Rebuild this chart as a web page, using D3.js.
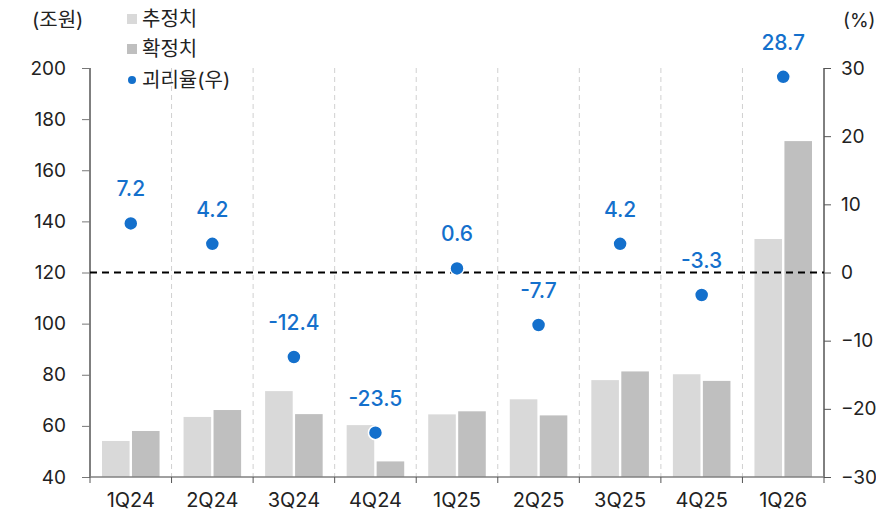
<!DOCTYPE html>
<html>
<head>
<meta charset="utf-8">
<script src="https://cdn.jsdelivr.net/npm/d3@7"></script>
<style>
  body { margin: 0; background: #fff; }
  text { font-family: Inter, "Noto Sans CJK KR", sans-serif; }
</style>
</head>
<body>
<svg id="chart" width="876" height="514"></svg>
<script>
// data
const quarters = ['1Q24', '2Q24', '3Q24', '4Q24', '1Q25', '2Q25', '3Q25', '4Q25', '1Q26']
const estimated = [54.1, 63.5, 73.6, 60.3, 64.5, 70.4, 77.9, 80.2, 133.1]
const confirmed = [58.0, 66.2, 64.6, 46.1, 65.7, 64.1, 81.3, 77.6, 171.4]
const gapRate = [7.2, 4.2, -12.4, -23.5, 0.6, -7.7, 4.2, -3.3, 28.7]
const leftTicks = [40, 60, 80, 100, 120, 140, 160, 180, 200]
const rightTicks = [-30, -20, -10, 0, 10, 20, 30]
const legendNames = ['추정치', '확정치', '괴리율(우)']

const estColor = '#d9d9d9', confColor = '#bfbfbf', blue = '#1470cc'

const svg = d3.select('#chart')
const plotL = 90, plotR = 824, plotT = 68, plotB = 477

const x = d3.scaleBand().domain(quarters).range([plotL, plotR])
const xSub = d3.scaleBand().domain(['est', 'conf']).range([12, x.bandwidth() - 12]).paddingInner(0.08)
const yL = d3.scaleLinear().domain([40, 200]).range([plotB, plotT])
const yR = d3.scaleLinear().domain([-30, 30]).range([plotB, plotT])

// vertical dashed separators
svg.append('g').selectAll('line')
    .data(quarters.slice(1))
    .join('line')
    .attr('x1', d => x(d)).attr('x2', d => x(d))
    .attr('y1', plotT).attr('y2', plotB)
    .attr('stroke', '#d0d0d0').attr('stroke-width', 1)
    .attr('stroke-dasharray', '5,4')

// bars
const groups = svg.append('g').selectAll('g')
    .data(quarters)
    .join('g')
    .attr('transform', d => `translate(${x(d)},0)`)

groups.append('rect')
    .attr('x', xSub('est'))
    .attr('width', xSub.bandwidth())
    .attr('y', (d, i) => yL(estimated[i]))
    .attr('height', (d, i) => plotB - yL(estimated[i]))
    .attr('fill', estColor)

groups.append('rect')
    .attr('x', xSub('conf'))
    .attr('width', xSub.bandwidth())
    .attr('y', (d, i) => yL(confirmed[i]))
    .attr('height', (d, i) => plotB - yL(confirmed[i]))
    .attr('fill', confColor)

// zero line of right axis
svg.append('line')
    .attr('x1', plotL).attr('x2', plotR)
    .attr('y1', yR(0)).attr('y2', yR(0))
    .attr('stroke', '#000').attr('stroke-width', 1.8)
    .attr('stroke-dasharray', '7,5')

// left axis
const axL = svg.append('g')
    .attr('transform', `translate(${plotL},0)`)
    .call(d3.axisLeft(yL).tickValues(leftTicks).tickSize(8).tickPadding(16))
axL.select('.domain').attr('stroke', '#000').attr('d', `M0,${plotT}V${plotB}`)
axL.selectAll('.tick line').attr('stroke', '#777')
axL.selectAll('.tick text').attr('font-size', 19).attr('fill', '#222')

// right axis
const axR = svg.append('g')
    .attr('transform', `translate(${plotR},0)`)
    .call(d3.axisRight(yR).tickValues(rightTicks).tickSize(7).tickPadding(10))
axR.select('.domain').attr('stroke', '#000').attr('d', `M0,${plotT}V${plotB}`)
axR.selectAll('.tick line').attr('stroke', '#555')
axR.selectAll('.tick text').attr('font-size', 19).attr('fill', '#222')

// bottom axis
svg.append('line')
    .attr('x1', plotL).attr('x2', plotR)
    .attr('y1', plotB).attr('y2', plotB)
    .attr('stroke', '#808080').attr('stroke-width', 1.5)
svg.append('g').selectAll('line')
    .data(quarters.concat(['end']))
    .join('line')
    .attr('x1', (d, i) => plotL + i * x.bandwidth())
    .attr('x2', (d, i) => plotL + i * x.bandwidth())
    .attr('y1', plotB).attr('y2', plotB + 6)
    .attr('stroke', '#555')
svg.append('g').selectAll('text')
    .data(quarters)
    .join('text')
    .attr('x', d => x(d) + x.bandwidth() / 2)
    .attr('y', 507)
    .attr('text-anchor', 'middle')
    .attr('font-size', 20).attr('fill', '#222')
    .text(d => d)

// gap rate dots and labels
svg.append('g').selectAll('circle')
    .data(gapRate)
    .join('circle')
    .attr('cx', (d, i) => x(quarters[i]) + x.bandwidth() / 2)
    .attr('cy', d => yR(d))
    .attr('r', 7)
    .attr('fill', blue)
    .attr('stroke', '#fff').attr('stroke-width', 1.5)

svg.append('g').selectAll('text')
    .data(gapRate)
    .join('text')
    .attr('x', (d, i) => x(quarters[i]) + x.bandwidth() / 2)
    .attr('y', d => yR(d) - 27)
    .attr('text-anchor', 'middle')
    .attr('font-size', 21).attr('font-weight', 500).attr('fill', blue)
    .text(d => d.toFixed(1))

// units
svg.append('text').attr('x', 32).attr('y', 27).attr('font-size', 20).attr('fill', '#222').text('(조원)')
svg.append('text').attr('x', 843).attr('y', 27).attr('font-size', 19).attr('fill', '#222').text('(%)')

// legend
const leg = svg.append('g').attr('transform', 'translate(127,0)')
const legY = [19, 49, 80]
leg.append('rect').attr('x', 0).attr('y', legY[0] - 5).attr('width', 10).attr('height', 10).attr('fill', estColor)
leg.append('rect').attr('x', 0).attr('y', legY[1] - 5).attr('width', 10).attr('height', 10).attr('fill', confColor)
leg.append('circle').attr('cx', 5).attr('cy', legY[2]).attr('r', 4).attr('fill', blue)
leg.selectAll('text')
    .data(legendNames)
    .join('text')
    .attr('x', 15)
    .attr('y', (d, i) => legY[i])
    .attr('dy', '0.36em')
    .attr('font-size', 20).attr('fill', '#222')
    .text(d => d)
</script>
</body>
</html>
